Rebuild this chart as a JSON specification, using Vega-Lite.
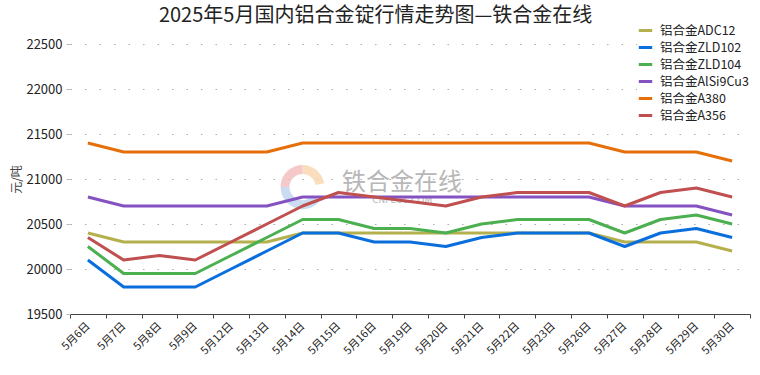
{
  "$schema": "https://vega.github.io/schema/vega-lite/v6.json",
  "width": 680,
  "height": 270,
  "autosize": {"type": "none"},
  "padding": {"left": 70, "top": 44, "right": 10, "bottom": 61},
  "background": "white",
  "config": {
    "font": "Noto Sans CJK SC",
    "view": {"stroke": null}
  },
  "title": {
    "text": "2025年5月国内铝合金锭行情走势图—铁合金在线",
    "anchor": "start",
    "dx": 148,
    "offset": -4,
    "fontSize": 20,
    "fontWeight": "normal",
    "color": "#222222",
    "font": "Noto Sans CJK SC"
  },
  "datasets": {
    "prices": [
      {"date": "5月6日", "s": "铝合金ADC12", "v": 20400},
      {"date": "5月7日", "s": "铝合金ADC12", "v": 20300},
      {"date": "5月8日", "s": "铝合金ADC12", "v": 20300},
      {"date": "5月9日", "s": "铝合金ADC12", "v": 20300},
      {"date": "5月12日", "s": "铝合金ADC12", "v": 20300},
      {"date": "5月13日", "s": "铝合金ADC12", "v": 20300},
      {"date": "5月14日", "s": "铝合金ADC12", "v": 20400},
      {"date": "5月15日", "s": "铝合金ADC12", "v": 20400},
      {"date": "5月16日", "s": "铝合金ADC12", "v": 20400},
      {"date": "5月19日", "s": "铝合金ADC12", "v": 20400},
      {"date": "5月20日", "s": "铝合金ADC12", "v": 20400},
      {"date": "5月21日", "s": "铝合金ADC12", "v": 20400},
      {"date": "5月22日", "s": "铝合金ADC12", "v": 20400},
      {"date": "5月23日", "s": "铝合金ADC12", "v": 20400},
      {"date": "5月26日", "s": "铝合金ADC12", "v": 20400},
      {"date": "5月27日", "s": "铝合金ADC12", "v": 20300},
      {"date": "5月28日", "s": "铝合金ADC12", "v": 20300},
      {"date": "5月29日", "s": "铝合金ADC12", "v": 20300},
      {"date": "5月30日", "s": "铝合金ADC12", "v": 20200},

      {"date": "5月6日", "s": "铝合金ZLD102", "v": 20100},
      {"date": "5月7日", "s": "铝合金ZLD102", "v": 19800},
      {"date": "5月8日", "s": "铝合金ZLD102", "v": 19800},
      {"date": "5月9日", "s": "铝合金ZLD102", "v": 19800},
      {"date": "5月12日", "s": "铝合金ZLD102", "v": 20000},
      {"date": "5月13日", "s": "铝合金ZLD102", "v": 20200},
      {"date": "5月14日", "s": "铝合金ZLD102", "v": 20400},
      {"date": "5月15日", "s": "铝合金ZLD102", "v": 20400},
      {"date": "5月16日", "s": "铝合金ZLD102", "v": 20300},
      {"date": "5月19日", "s": "铝合金ZLD102", "v": 20300},
      {"date": "5月20日", "s": "铝合金ZLD102", "v": 20250},
      {"date": "5月21日", "s": "铝合金ZLD102", "v": 20350},
      {"date": "5月22日", "s": "铝合金ZLD102", "v": 20400},
      {"date": "5月23日", "s": "铝合金ZLD102", "v": 20400},
      {"date": "5月26日", "s": "铝合金ZLD102", "v": 20400},
      {"date": "5月27日", "s": "铝合金ZLD102", "v": 20250},
      {"date": "5月28日", "s": "铝合金ZLD102", "v": 20400},
      {"date": "5月29日", "s": "铝合金ZLD102", "v": 20450},
      {"date": "5月30日", "s": "铝合金ZLD102", "v": 20350},

      {"date": "5月6日", "s": "铝合金ZLD104", "v": 20250},
      {"date": "5月7日", "s": "铝合金ZLD104", "v": 19950},
      {"date": "5月8日", "s": "铝合金ZLD104", "v": 19950},
      {"date": "5月9日", "s": "铝合金ZLD104", "v": 19950},
      {"date": "5月12日", "s": "铝合金ZLD104", "v": 20150},
      {"date": "5月13日", "s": "铝合金ZLD104", "v": 20350},
      {"date": "5月14日", "s": "铝合金ZLD104", "v": 20550},
      {"date": "5月15日", "s": "铝合金ZLD104", "v": 20550},
      {"date": "5月16日", "s": "铝合金ZLD104", "v": 20450},
      {"date": "5月19日", "s": "铝合金ZLD104", "v": 20450},
      {"date": "5月20日", "s": "铝合金ZLD104", "v": 20400},
      {"date": "5月21日", "s": "铝合金ZLD104", "v": 20500},
      {"date": "5月22日", "s": "铝合金ZLD104", "v": 20550},
      {"date": "5月23日", "s": "铝合金ZLD104", "v": 20550},
      {"date": "5月26日", "s": "铝合金ZLD104", "v": 20550},
      {"date": "5月27日", "s": "铝合金ZLD104", "v": 20400},
      {"date": "5月28日", "s": "铝合金ZLD104", "v": 20550},
      {"date": "5月29日", "s": "铝合金ZLD104", "v": 20600},
      {"date": "5月30日", "s": "铝合金ZLD104", "v": 20500},

      {"date": "5月6日", "s": "铝合金AlSi9Cu3", "v": 20800},
      {"date": "5月7日", "s": "铝合金AlSi9Cu3", "v": 20700},
      {"date": "5月8日", "s": "铝合金AlSi9Cu3", "v": 20700},
      {"date": "5月9日", "s": "铝合金AlSi9Cu3", "v": 20700},
      {"date": "5月12日", "s": "铝合金AlSi9Cu3", "v": 20700},
      {"date": "5月13日", "s": "铝合金AlSi9Cu3", "v": 20700},
      {"date": "5月14日", "s": "铝合金AlSi9Cu3", "v": 20800},
      {"date": "5月15日", "s": "铝合金AlSi9Cu3", "v": 20800},
      {"date": "5月16日", "s": "铝合金AlSi9Cu3", "v": 20800},
      {"date": "5月19日", "s": "铝合金AlSi9Cu3", "v": 20800},
      {"date": "5月20日", "s": "铝合金AlSi9Cu3", "v": 20800},
      {"date": "5月21日", "s": "铝合金AlSi9Cu3", "v": 20800},
      {"date": "5月22日", "s": "铝合金AlSi9Cu3", "v": 20800},
      {"date": "5月23日", "s": "铝合金AlSi9Cu3", "v": 20800},
      {"date": "5月26日", "s": "铝合金AlSi9Cu3", "v": 20800},
      {"date": "5月27日", "s": "铝合金AlSi9Cu3", "v": 20700},
      {"date": "5月28日", "s": "铝合金AlSi9Cu3", "v": 20700},
      {"date": "5月29日", "s": "铝合金AlSi9Cu3", "v": 20700},
      {"date": "5月30日", "s": "铝合金AlSi9Cu3", "v": 20600},

      {"date": "5月6日", "s": "铝合金A380", "v": 21400},
      {"date": "5月7日", "s": "铝合金A380", "v": 21300},
      {"date": "5月8日", "s": "铝合金A380", "v": 21300},
      {"date": "5月9日", "s": "铝合金A380", "v": 21300},
      {"date": "5月12日", "s": "铝合金A380", "v": 21300},
      {"date": "5月13日", "s": "铝合金A380", "v": 21300},
      {"date": "5月14日", "s": "铝合金A380", "v": 21400},
      {"date": "5月15日", "s": "铝合金A380", "v": 21400},
      {"date": "5月16日", "s": "铝合金A380", "v": 21400},
      {"date": "5月19日", "s": "铝合金A380", "v": 21400},
      {"date": "5月20日", "s": "铝合金A380", "v": 21400},
      {"date": "5月21日", "s": "铝合金A380", "v": 21400},
      {"date": "5月22日", "s": "铝合金A380", "v": 21400},
      {"date": "5月23日", "s": "铝合金A380", "v": 21400},
      {"date": "5月26日", "s": "铝合金A380", "v": 21400},
      {"date": "5月27日", "s": "铝合金A380", "v": 21300},
      {"date": "5月28日", "s": "铝合金A380", "v": 21300},
      {"date": "5月29日", "s": "铝合金A380", "v": 21300},
      {"date": "5月30日", "s": "铝合金A380", "v": 21200},

      {"date": "5月6日", "s": "铝合金A356", "v": 20350},
      {"date": "5月7日", "s": "铝合金A356", "v": 20100},
      {"date": "5月8日", "s": "铝合金A356", "v": 20150},
      {"date": "5月9日", "s": "铝合金A356", "v": 20100},
      {"date": "5月12日", "s": "铝合金A356", "v": 20300},
      {"date": "5月13日", "s": "铝合金A356", "v": 20500},
      {"date": "5月14日", "s": "铝合金A356", "v": 20700},
      {"date": "5月15日", "s": "铝合金A356", "v": 20850},
      {"date": "5月16日", "s": "铝合金A356", "v": 20800},
      {"date": "5月19日", "s": "铝合金A356", "v": 20750},
      {"date": "5月20日", "s": "铝合金A356", "v": 20700},
      {"date": "5月21日", "s": "铝合金A356", "v": 20800},
      {"date": "5月22日", "s": "铝合金A356", "v": 20850},
      {"date": "5月23日", "s": "铝合金A356", "v": 20850},
      {"date": "5月26日", "s": "铝合金A356", "v": 20850},
      {"date": "5月27日", "s": "铝合金A356", "v": 20700},
      {"date": "5月28日", "s": "铝合金A356", "v": 20850},
      {"date": "5月29日", "s": "铝合金A356", "v": 20900},
      {"date": "5月30日", "s": "铝合金A356", "v": 20800}
    ],
    "mark": [
      {"date": "5月19日", "v": 20955, "t": "铁合金在线", "k": "big"},
      {"date": "5月16日", "v": 20770, "t": "CNFEOL.COM", "k": "small"},
      {"date": "5月14日", "v": 20910, "t": "", "k": "logo"}
    ]
  },
  "layer": [
    {
      "data": {"name": "mark"},
      "transform": [{"filter": "datum.k == 'logo'"}],
      "mark": {"type": "point", "filled": true, "size": 1936, "dx": 12, "color": "#bcd3ef", "opacity": 0.8, "strokeWidth": 0,
        "shape": "M -1 0 A 1 1 0 0 0 0.77 0.64 L 0.46 0.38 A 0.6 0.6 0 0 1 -0.6 0 Z"},
      "encoding": {
        "x": {"field": "date", "type": "ordinal", "sort": null},
        "y": {"field": "v", "type": "quantitative"}
      }
    },
    {
      "data": {"name": "mark"},
      "transform": [{"filter": "datum.k == 'logo'"}],
      "mark": {"type": "point", "filled": true, "size": 1936, "dx": 12, "color": "#f2bcbc", "opacity": 0.8, "strokeWidth": 0,
        "shape": "M -1 0 A 1 1 0 0 1 0 -1 L 0 -0.6 A 0.6 0.6 0 0 0 -0.6 0 Z"},
      "encoding": {
        "x": {"field": "date", "type": "ordinal", "sort": null},
        "y": {"field": "v", "type": "quantitative"}
      }
    },
    {
      "data": {"name": "mark"},
      "transform": [{"filter": "datum.k == 'logo'"}],
      "mark": {"type": "point", "filled": true, "size": 1936, "dx": 12, "color": "#f8d4ac", "opacity": 0.8, "strokeWidth": 0,
        "shape": "M 0 -1 A 1 1 0 0 1 0.98 -0.17 L 0.59 -0.1 A 0.6 0.6 0 0 0 0 -0.6 Z"},
      "encoding": {
        "x": {"field": "date", "type": "ordinal", "sort": null},
        "y": {"field": "v", "type": "quantitative"}
      }
    },
    {
      "data": {"name": "mark"},
      "transform": [{"filter": "datum.k == 'big'"}],
      "mark": {"type": "text", "fontSize": 24, "color": "#b0b0b0", "dx": -8, "opacity": 0.9},
      "encoding": {
        "x": {"field": "date", "type": "ordinal", "sort": null},
        "y": {"field": "v", "type": "quantitative"},
        "text": {"field": "t"}
      }
    },
    {
      "data": {"name": "mark"},
      "transform": [{"filter": "datum.k == 'small'"}],
      "mark": {"type": "text", "fontSize": 9, "color": "#b8b8b8", "dx": 28, "font": "DejaVu Sans"},
      "encoding": {
        "x": {"field": "date", "type": "ordinal", "sort": null},
        "y": {"field": "v", "type": "quantitative"},
        "text": {"field": "t"}
      }
    },
    {
      "data": {"name": "prices"},
      "mark": {"type": "line", "strokeWidth": 3, "strokeJoin": "round"},
      "encoding": {
        "x": {
          "field": "date",
          "type": "ordinal",
          "sort": null,
          "bandPosition": 0.5,
          "scale": {
            "type": "band",
            "paddingInner": 0,
            "paddingOuter": 0,
            "domain": ["5月6日", "5月7日", "5月8日", "5月9日", "5月12日", "5月13日", "5月14日", "5月15日", "5月16日", "5月19日", "5月20日", "5月21日", "5月22日", "5月23日", "5月26日", "5月27日", "5月28日", "5月29日", "5月30日"]
          },
          "axis": {
            "title": null,
            "labelAngle": -45,
            "labelFontSize": 11,
            "labelColor": "#222222",
            "labelPadding": 6,
            "tickBand": "extent",
            "tickColor": "#444444",
            "tickSize": 4,
            "domainColor": "#444444",
            "grid": false
          }
        },
        "y": {
          "field": "v",
          "type": "quantitative",
          "scale": {"domain": [19500, 22500], "zero": false, "nice": false},
          "axis": {
            "title": "元/吨",
            "titleFontSize": 12,
            "titleFontWeight": "normal",
            "titleColor": "#444444",
            "titlePadding": 2,
            "format": "d",
            "values": [19500, 20000, 20500, 21000, 21500, 22000, 22500],
            "labelFontSize": 13,
            "labelColor": "#222222",
            "labelPadding": 4,
            "domain": false,
            "tickColor": "#bbbbbb",
            "tickSize": 4,
            "gridColor": "#aaaaaa",
            "gridDash": [1.5, 13],
            "gridWidth": 1.2
          }
        },
        "color": {
          "field": "s",
          "type": "nominal",
          "scale": {
            "domain": ["铝合金ADC12", "铝合金ZLD102", "铝合金ZLD104", "铝合金AlSi9Cu3", "铝合金A380", "铝合金A356"],
            "range": ["#b5b04e", "#0a6fdc", "#4caf50", "#8553c1", "#e5700a", "#c05050"]
          },
          "legend": {
            "title": null,
            "orient": "none",
            "legendX": 567,
            "legendY": -22,
            "symbolType": "stroke",
            "symbolStrokeWidth": 3,
            "symbolSize": 180,
            "labelFontSize": 12.5,
            "labelColor": "#222222",
            "rowPadding": 2,
            "labelOffset": 6,
            "fillColor": "white"
          }
        }
      }
    }
  ]
}
